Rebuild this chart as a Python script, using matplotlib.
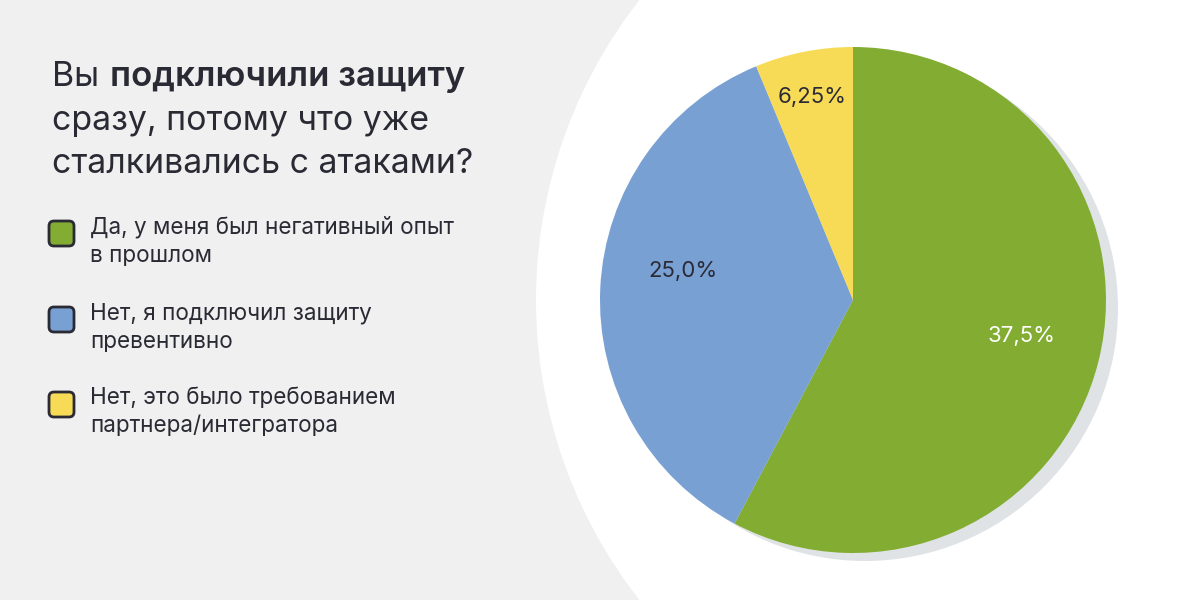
import matplotlib.pyplot as plt
from matplotlib.patches import Circle, FancyBboxPatch
import numpy as np

# data
categories = ["Да, у меня был негативный опыт\nв прошлом",
              "Нет, я подключил защиту\nпревентивно",
              "Нет, это было требованием\nпартнера/интегратора"]
shares = [57.75, 36.0, 6.25]          # slice sizes as drawn
pct_labels = ["37,5%", "25,0%", "6,25%"]
colors = ["#82ad32", "#78a0d3", "#f7db57"]
pct_colors = ["white", "#2a2a36", "#2a2a36"]
pct_radius = [0.68, 0.68, 0.82]
pct_shift = [2, -7, 0]   # degrees, label nudges

text_color = "#2a2a34"
plt.rcParams['font.family'] = ['Inter', 'DejaVu Sans']

fig = plt.figure(figsize=(12, 6), dpi=100)
ax = fig.add_axes([0, 0, 1, 1])
ax.set_facecolor("#f0f0f0")

H = 600
cx, cy, R = 853, H - 300, 253

# white backdrop and shadow
ax.add_patch(Circle((1023, H - 300), 487, color="white", lw=0, zorder=0))
ax.add_patch(Circle((cx + 12, cy - 8), R, color="#dfe3e5", lw=0, zorder=1))

wedges, _ = ax.pie(shares, colors=colors, startangle=90, counterclock=False,
                   center=(cx, cy), radius=R,
                   wedgeprops=dict(linewidth=0, zorder=2))
for w, lab, c, r, s in zip(wedges, pct_labels, pct_colors, pct_radius, pct_shift):
    ang = np.deg2rad((w.theta1 + w.theta2) / 2 + s)
    ax.text(cx + r * R * np.cos(ang), cy + r * R * np.sin(ang), lab,
            ha="center", va="center", fontsize=16, color=c, zorder=3)

ax.set_xlim(0, 1200)
ax.set_ylim(0, H)
ax.set_aspect("auto")
ax.axis("off")
fig.patch.set_facecolor("#f0f0f0")

# title with bold part
fs_title = 24.4
t1 = ax.text(52, H - 86, "Вы", fontsize=fs_title, color=text_color, va="baseline")
fig.canvas.draw()
bb = t1.get_window_extent(fig.canvas.get_renderer())
ax.text(bb.x1 + 11, H - 86, "подключили защиту", fontsize=25,
        fontweight="semibold", color=text_color, va="baseline")
ax.text(52, H - 130, "сразу, потому что уже", fontsize=fs_title,
        color=text_color, va="baseline")
ax.text(52, H - 173, "сталкивались с атаками?", fontsize=fs_title,
        color=text_color, va="baseline")

# legend
item_top = [233, 319, 404]
for cat, col, y in zip(categories, colors, item_top):
    ax.add_patch(FancyBboxPatch((49, H - y - 13), 25, 25,
                                boxstyle="round,pad=0,rounding_size=5",
                                fc=col, ec="#2a2a34", lw=2, zorder=3))
    l1, l2 = cat.split("\n")
    ax.text(90, H - y, l1, fontsize=16.2, color=text_color, va="baseline")
    ax.text(90, H - y - 28.5, l2, fontsize=16.2, color=text_color, va="baseline")

fig.savefig("out.png", dpi=100, facecolor=fig.get_facecolor())
